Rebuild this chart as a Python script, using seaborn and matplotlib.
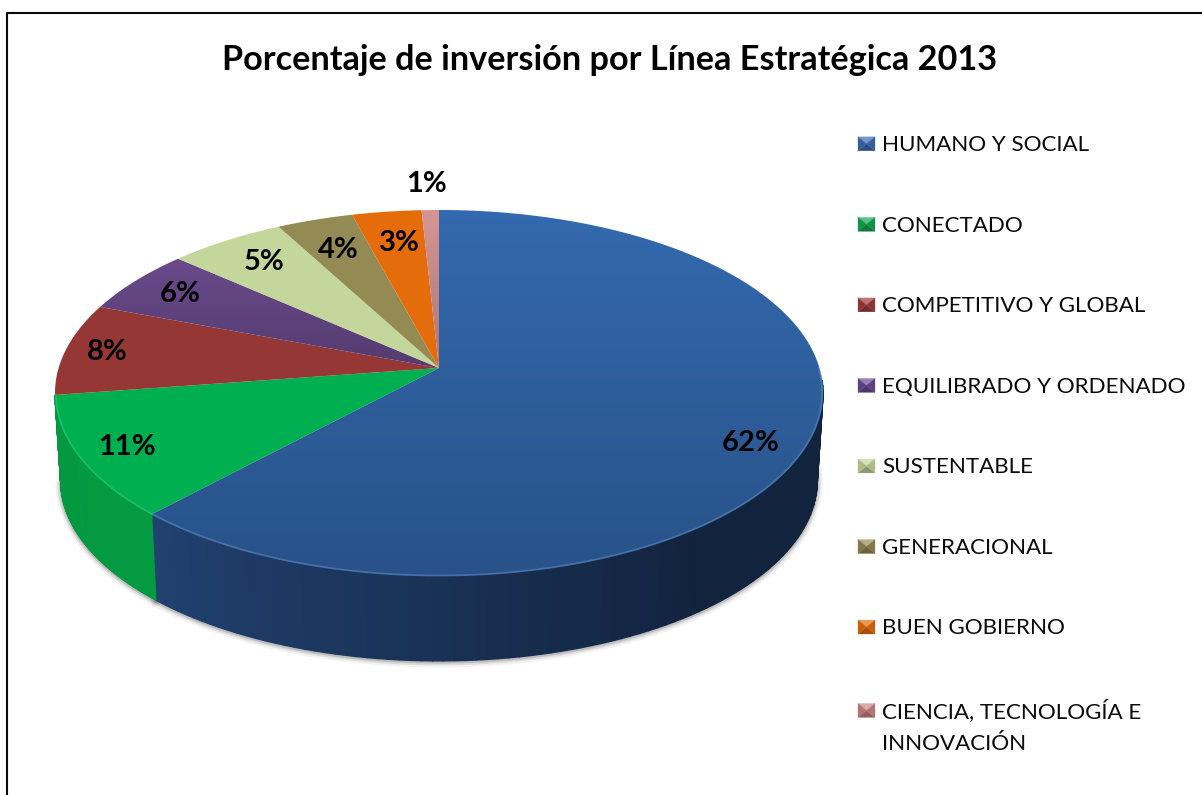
import numpy as np
import matplotlib
matplotlib.use("Agg")
import matplotlib.pyplot as plt
import seaborn as sns
from matplotlib.collections import PolyCollection
from matplotlib.colors import to_rgb
from matplotlib.legend_handler import HandlerPatch
from matplotlib.patches import Patch, Polygon
from matplotlib.path import Path
from matplotlib.transforms import Affine2D, Transform

title = "Porcentaje de inversión por Línea Estratégica 2013"
categories = ["HUMANO Y SOCIAL", "CONECTADO", "COMPETITIVO Y GLOBAL", "EQUILIBRADO Y ORDENADO",
              "SUSTENTABLE", "GENERACIONAL", "BUEN GOBIERNO", "CIENCIA, TECNOLOGÍA E\nINNOVACIÓN"]
# slice sizes; the printed labels are these values rounded by the original
values = [61.9, 10.75, 8.15, 5.75, 5.62, 3.66, 3.34, 0.83]
labels = ["62%", "11%", "8%", "6%", "5%", "4%", "3%", "1%"]

face_colors = ["#3369AE", "#00B050", "#953735", "#6A4A8B", "#C3D69B", "#948A54", "#E46C0A", "#D69593"]
legend_colors = ["#3A6CB0", "#10A850", "#A03C3A", "#6A4A90", "#C3D69B", "#948A54", "#E46C0A", "#C98583"]
fade = [0.22, 0.0, 0.0, 0.2, 0.0, 0.0, 0.0, 0.2]  # darkening towards the bottom of each slice

# layout, in pixels of the 1202x795 picture
label_xy = [(751, 443), (127, 447), (107, 352), (180, 294), (264, 262), (338, 250), (399, 243), (427, 184)]
apex_x, apex_y = 439, 368
k, sx, sy = 0.1366, 380.4, 179.6
wall_scale, wall_apex_y = 0.985, 456


def project(xy, scale=1.0, ay=apex_y):
    xy = np.asarray(xy, dtype=float)
    w = 1 + k * xy[:, 1]
    return np.column_stack([apex_x + scale * sx * xy[:, 0] / w, ay - scale * sy * xy[:, 1] / w])


class Tilt(Transform):
    # perspective view of the unit circle drawn by ax.pie
    input_dims = output_dims = 2

    def transform_non_affine(self, xy):
        return project(xy)

    def transform_path_non_affine(self, path):
        big = path.transformed(Affine2D().scale(2000)).to_polygons(closed_only=True)[0]
        return Path(project(big / 2000), closed=True)


class BevelHandler(HandlerPatch):
    def create_artists(self, legend, orig, xd, yd, width, height, fontsize, trans):
        c = np.array(orig.get_facecolor()[:3])
        # the two-line entry keeps its marker beside the first line
        extra = 17 * 0.72 if orig.get_label().count("\n") else 0
        x0, y0 = -xd, -yd + extra - height * 0.05
        mx, my = x0 + width / 2, y0 + height / 2
        a, b, e, d = (x0, y0), (x0 + width, y0), (x0 + width, y0 + height), (x0, y0 + height)
        top = c + (1 - c) * 0.3
        parts = [((d, e, (mx, my)), top), ((a, b, (mx, my)), c * 0.72),
                 ((a, d, (mx, my)), c * 0.88), ((b, e, (mx, my)), c * 0.88)]
        return [Polygon(p, closed=True, facecolor=col, edgecolor=col, lw=0.2, transform=trans) for p, col in parts]


sns.set_theme(style="white")
plt.rcParams["font.family"] = ["Lato", "DejaVu Sans"]

fig = plt.figure(figsize=(12.02, 7.95), dpi=100)
ax = fig.add_axes([0, 0, 1, 1])
palette = sns.color_palette(face_colors)

wedges, _ = ax.pie(values, colors=palette, startangle=90, counterclock=False, frame=True)
tilt = Tilt() + ax.transData
for w in wedges:
    w.set_transform(tilt)
    w.set_zorder(5)
    w.set_edgecolor("none")

ax.set_aspect("auto")
ax.set_xlim(0, 1202)
ax.set_ylim(795, 0)
ax.axis("off")

# frame of the chart area, cut by the picture on the right and at the bottom
ax.plot([7, 7, 1202], [795, 13, 13], color="#0a0a0a", lw=1.5, solid_capstyle="butt", zorder=1)

# side wall: blue and green are the only slices facing the viewer
wall_parts = [(wedges[0].theta1, -4, "#21416F", "#12233E"),
              (wedges[1].theta1, wedges[0].theta1, "#069640", "#039A42")]
for t1, t2, c1, c2 in wall_parts:
    th = np.radians(np.linspace(t1, t2, 90))
    unit = np.column_stack([np.cos(th), np.sin(th)])
    up = project(unit)
    low = project(unit, wall_scale, wall_apex_y)
    mix = np.clip(np.linspace(0, 1, 89) * 1.6, 0, 1)[:, None]
    cols = (1 - mix) * np.array(to_rgb(c1)) + mix * np.array(to_rgb(c2))
    verts = [[up[i], up[i + 1], low[i + 1], low[i]] for i in range(89)]
    ax.add_collection(PolyCollection(verts, facecolors=cols, edgecolors=cols, linewidths=1.0, zorder=3))
    # soft shadow under the wall
    for lw, al in [(8, 0.05), (5, 0.09), (2.5, 0.14)]:
        ax.plot(low[:, 0], low[:, 1] + 1, color="black", lw=lw, alpha=al, zorder=2, solid_capstyle="round")

# gradient on the top face
for w, f in zip(wedges, fade):
    if f > 0:
        x0, y0, x1, y1 = w.get_path().transformed(Tilt()).get_extents().extents
        rgba = np.zeros((64, 1, 4))
        rgba[:, 0, 3] = np.linspace(0, f, 64)
        im = ax.imshow(rgba, extent=(x0, x1, y1, y0), aspect="auto", zorder=6, interpolation="bilinear")
        im.set_clip_path(w)
ax.set_xlim(0, 1202)
ax.set_ylim(795, 0)

# light rim along the front edge
for t1, t2, col in [(wedges[0].theta1, 0, "#5F8DC8"), (wedges[1].theta1, wedges[0].theta1, "#25D074")]:
    th = np.radians(np.linspace(t1, t2, 120))
    rim = project(np.column_stack([np.cos(th), np.sin(th)]) * 0.998)
    ax.plot(rim[:, 0], rim[:, 1], color=col, lw=1.3, alpha=0.55, zorder=7)

for txt, (x, y) in zip(labels, label_xy):
    ax.text(x, y, txt, ha="center", va="center", fontsize=21, fontweight="bold", color="black", zorder=8)

ax.text(610, 60, title, ha="center", va="center", fontsize=24.7, fontweight="bold", color="black")

handles = [Patch(facecolor=c, label=n) for c, n in zip(legend_colors, categories)]
fs = 16.1
px = fs * 100 / 72
leg = ax.legend(handles=handles, loc="upper left", bbox_to_anchor=(858, 135), bbox_transform=ax.transData,
                frameon=False, fontsize=fs, borderpad=0, borderaxespad=0, labelspacing=(82.9 - px) / px,
                handlelength=17 / px, handleheight=13 / px, handletextpad=7 / px, labelcolor="#0a0a0a",
                handler_map={Patch: BevelHandler()})
for t in leg.get_texts():
    t.set_linespacing(1.8)

fig.savefig("out.png", dpi=100)
